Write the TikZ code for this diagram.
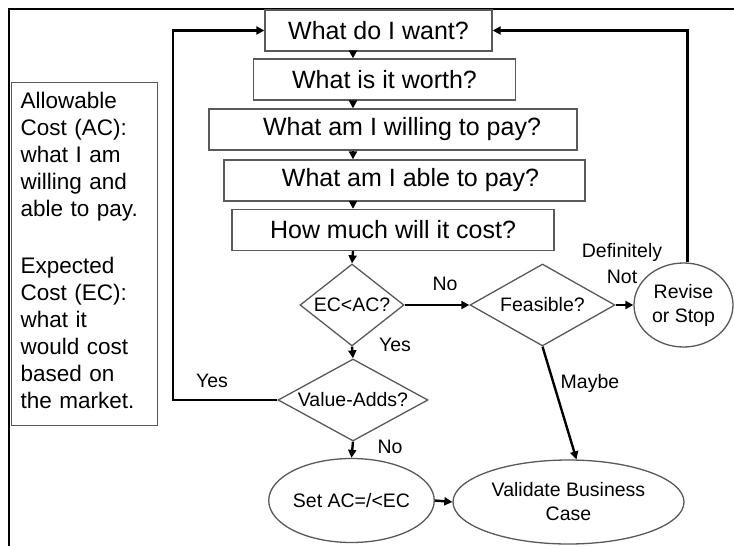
\documentclass[tikz,border=0pt]{standalone}
\usepackage{fontspec}
\setmainfont{Liberation Sans}
\usepackage{xcolor}
\definecolor{shapegray}{HTML}{595959}
\usepackage{tikz}
\usetikzlibrary{
  positioning,
  arrows.meta,
  shapes.geometric,
  calc
}

\begin{document}
\begin{tikzpicture}[
  x=1pt, y=-1pt,
  every node/.style={font=\fontsize{19.5}{24}\selectfont, inner sep=0pt},
  question/.style={draw=shapegray, fill=white, line width=1.3pt, rectangle,
    minimum height=41pt, font=\fontsize{25}{28}\selectfont},
  decision/.style={draw=shapegray, fill=white, line width=1.3pt, diamond,
    minimum width=#1, minimum height=82pt},
  decision/.default=104pt,
  outcome/.style={draw=shapegray, fill=white, line width=1.3pt, ellipse,
    minimum height=84pt, align=center},
  lbl/.style={align=center},
  link/.style={draw=black, line width=2.4pt, -{Triangle[length=8pt,width=8pt]}}
]
% Page size and frame
\useasboundingbox (0,0) rectangle (734,546);
\draw[line width=2pt] (9,546) -- (9,9) -- (734,9);

% Column helpers
\coordinate (col) at (353,0);    % main arrow column
\coordinate (lbend) at (173,400); % left return corner

% Question boxes
\node[question, minimum width=227pt] (want) at (378.5,30.5) {What do I want?};
\node[question, minimum width=262pt] (worth) at (384.5,79.5) {What is it worth?};
\node[question, minimum width=368pt] (will) at (393,129.5) {\hspace{18pt}What am I willing to pay?};
\node[question, minimum width=361pt] (able) at (404.5,180.5) {\hspace{12pt}What am I able to pay?};
\node[question, minimum width=322pt] (cost) at (393,230) {How much will it cost?};

% Decisions
\node[decision, aspect=1.4] (ecac) at (352,305) {EC<AC?};
\node[decision=150pt, aspect=1.8] (value) at (353,400) {Value-Adds?};
\node[decision=145pt, aspect=1.7] (feas) at (542.5,305) {Feasible?};

% Outcomes
\node[outcome, minimum width=99pt] (revise) at (683.5,305) {Revise\\or Stop};
\node[outcome, minimum width=151pt] (setac) at (351.5,500.5) {Set AC=/<EC};
\node[outcome, minimum width=231pt] (valid) at (568.5,502) {Validate Business\\Case};

% Definitions
\node[draw=shapegray, line width=1.3pt, minimum width=146pt, minimum height=343pt,
  text width=128pt, align=left, anchor=north west,
  font=\fontsize{22.5}{27}\selectfont] (note) at (11,82)
  {\rule{0pt}{0pt}\\[-18pt]Allowable\\Cost (AC):\\what I am\\willing and\\able to pay.\\[30pt]%
   Expected\\Cost (EC):\\what it\\would cost\\based on\\the market.};

% Main column
\draw[link] (want.south -| col) -- (worth.north -| col);
\draw[link] (worth.south -| col) -- (will.north -| col);
\draw[link] (will.south -| col) -- (able.north -| col);
\draw[link] (able.south -| col) -- (cost.north -| col);
\draw[link] (cost.south -| col) -- (ecac.north);

% Branches
\draw[link] (ecac.east) -- (feas.west);
\draw[link] (ecac.south) -- (value.north);
\draw[link] (value.south) -- (setac.north);
\draw[link] (feas.east) -- (revise.west);
\draw[link] (feas.south) -- ([xshift=8pt]valid.north);
\draw[link] (setac.east) -- (valid.west);

% Return loops
\draw[link] (value.west) -- (lbend) |- (want.west);
\draw[link] ([xshift=4pt]revise.north) |- (want.east);

% Branch labels
\node[lbl] (lno1) at (445,284) {No};
\node[lbl] (lyes1) at (395,345) {Yes};
\node[lbl] (lyes2) at (212,381) {Yes};
\node[lbl] (lno2) at (390,447) {No};
\node[lbl] (lmaybe) at (590,383) {Maybe};
\node[lbl, font=\fontsize{19.5}{26}\selectfont] (ldef) at (622,264) {Definitely\\Not};

\end{tikzpicture}
\end{document}
